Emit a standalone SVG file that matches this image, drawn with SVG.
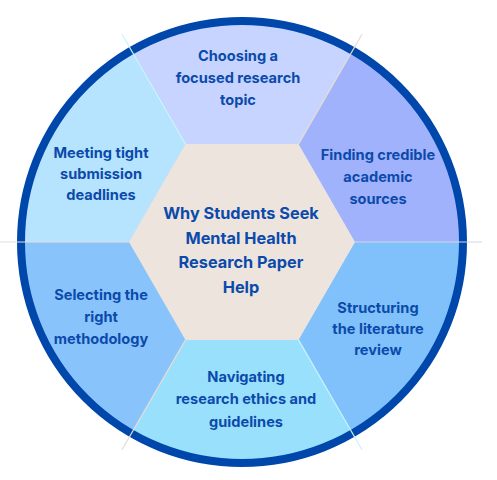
<svg xmlns="http://www.w3.org/2000/svg" width="497" height="480" viewBox="0 0 497 480">
  <style>
    .lbl { font-family: Inter, "Noto Sans", "DejaVu Sans", sans-serif; font-weight: 700; font-size: 14.6px; fill: #0b4aab; text-anchor: middle; }
    .title { font-size: 16.3px; }
    .div { stroke-width: 1.2; fill: none; }
  </style>
  <defs>
    <clipPath id="disc"><circle cx="242" cy="242" r="222"/></clipPath>
  </defs>
  <rect width="497" height="480" fill="#ffffff"/>
  <g id="segments" clip-path="url(#disc)">
    <g id="seg-top"><polygon points="242,242 392,-17.8 92,-17.8" fill="#c6d4ff"/></g>
    <g id="seg-topright"><polygon points="242,242 542,242 392,-17.8" fill="#a0b2fc"/></g>
    <g id="seg-bottomright"><polygon points="242,242 392,501.8 542,242" fill="#80c1fb"/></g>
    <g id="seg-bottom"><polygon points="242,242 92,501.8 392,501.8" fill="#99e0fd"/></g>
    <g id="seg-bottomleft"><polygon points="242,242 -58,242 92,501.8" fill="#88c4fb"/></g>
    <g id="seg-topleft"><polygon points="242,242 92,-17.8 -58,242" fill="#b6e3fd"/></g>
  </g>
  <g id="hub">
    <polygon points="355,242 298.5,144.1 185.5,144.1 129,242 185.5,339.9 298.5,339.9" fill="#ede4de"/>
  </g>
  <g id="ring">
    <circle cx="242" cy="242" r="221" fill="none" stroke="#0047ab" stroke-width="8"/>
  </g>
  <g id="connectors">
    <line class="div" x1="298.5" y1="144.1" x2="362" y2="34.2" stroke="#e6dcd3"/>
    <line class="div" x1="185.5" y1="144.1" x2="122" y2="34.2" stroke="#c9f3fb"/>
    <line class="div" x1="129" y1="242" x2="0" y2="242" stroke="#e3ddd8"/>
    <line class="div" x1="355" y1="242" x2="482" y2="242" stroke="#d3d6e6"/>
    <line class="div" x1="185.5" y1="339.9" x2="122" y2="449.8" stroke="#e6dcd3"/>
    <line class="div" x1="298.5" y1="339.9" x2="362" y2="449.8" stroke="#c9f3fb"/>
  </g>
  <g id="center-label">
    <text class="lbl title" x="241" y="219">Why Students Seek</text>
    <text class="lbl title" x="241" y="243.5">Mental Health</text>
    <text class="lbl title" x="241" y="268">Research Paper</text>
    <text class="lbl title" x="241" y="292.5">Help</text>
  </g>
  <g id="label-top">
    <text class="lbl" x="238" y="61">Choosing a</text>
    <text class="lbl" x="238" y="83">focused research</text>
    <text class="lbl" x="238" y="105">topic</text>
  </g>
  <g id="label-topright">
    <text class="lbl" x="378" y="160">Finding credible</text>
    <text class="lbl" x="378" y="182">academic</text>
    <text class="lbl" x="378" y="204">sources</text>
  </g>
  <g id="label-bottomright">
    <text class="lbl" x="378" y="313">Structuring</text>
    <text class="lbl" x="378" y="334">the literature</text>
    <text class="lbl" x="378" y="355">review</text>
  </g>
  <g id="label-bottom">
    <text class="lbl" x="246" y="382">Navigating</text>
    <text class="lbl" x="246" y="404">research ethics and</text>
    <text class="lbl" x="246" y="427">guidelines</text>
  </g>
  <g id="label-bottomleft">
    <text class="lbl" x="101" y="300">Selecting the</text>
    <text class="lbl" x="101" y="322">right</text>
    <text class="lbl" x="101" y="344">methodology</text>
  </g>
  <g id="label-topleft">
    <text class="lbl" x="101" y="158">Meeting tight</text>
    <text class="lbl" x="101" y="179">submission</text>
    <text class="lbl" x="101" y="200">deadlines</text>
  </g>
</svg>
